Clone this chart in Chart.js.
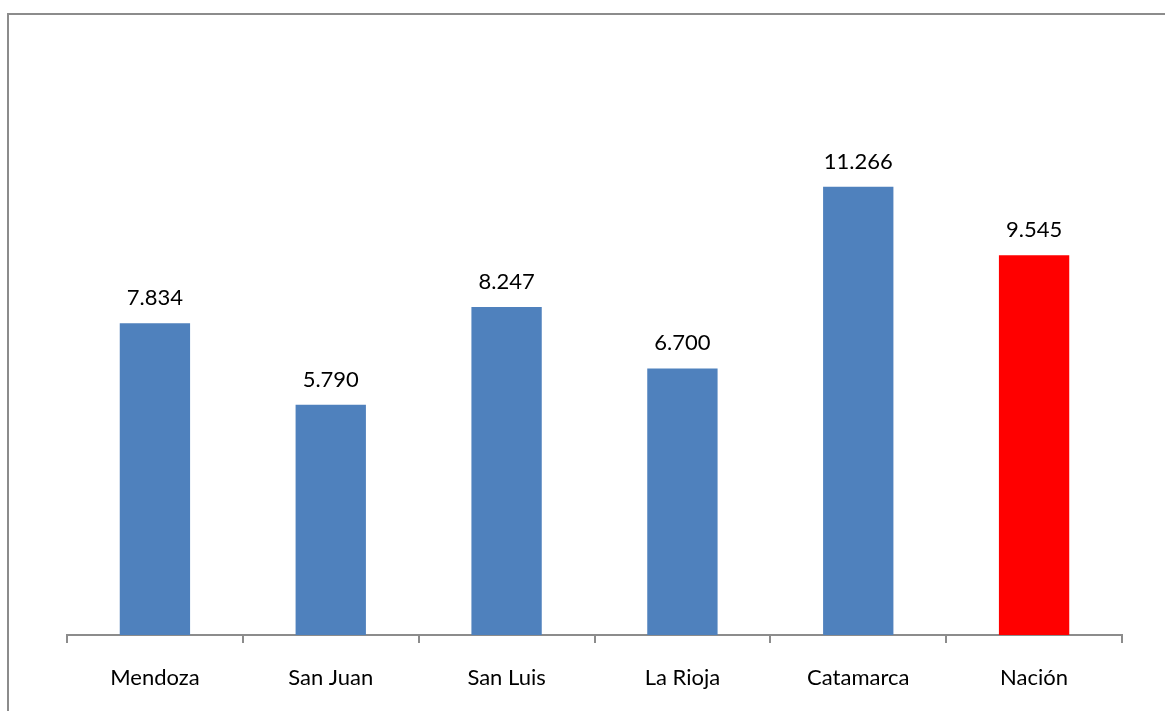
<!DOCTYPE html>
<html>
<head>
<meta charset="utf-8">
<script src="https://cdn.jsdelivr.net/npm/chart.js@4"></script>
<style>
  html, body { margin: 0; padding: 0; background: #fff; }
  #wrap { width: 1165px; height: 711px; position: relative; }
</style>
</head>
<body>
<div id="wrap"><canvas id="chart"></canvas></div>
<script>
// Data
const categories = ['Mendoza', 'San Juan', 'San Luis', 'La Rioja', 'Catamarca', 'Nación'];
const values = [7.834, 5.790, 8.247, 6.700, 11.266, 9.545];
const valueLabels = ['7.834', '5.790', '8.247', '6.700', '11.266', '9.545'];
const barColors = ['#4F81BD', '#4F81BD', '#4F81BD', '#4F81BD', '#4F81BD', '#FF0000'];

const fontFamily = 'Lato, "Open Sans", sans-serif';
const fontSize = 22;

// Frame on the left and top edges
const framePlugin = {
    id: 'frame',
    beforeDraw(chart) {
        const ctx = chart.ctx;
        ctx.save();
        ctx.strokeStyle = '#8c8c8c';
        ctx.lineWidth = 2;
        ctx.beginPath();
        ctx.moveTo(8, 711);
        ctx.lineTo(8, 14);
        ctx.lineTo(1165, 14);
        ctx.stroke();
        ctx.restore();
    }
};

// Value labels above bars
const valueLabelPlugin = {
    id: 'valueLabels',
    afterDatasetsDraw(chart) {
        const ctx = chart.ctx;
        const meta = chart.getDatasetMeta(0);
        ctx.save();
        ctx.font = fontSize + 'px ' + fontFamily;
        ctx.fillStyle = '#000';
        ctx.textAlign = 'center';
        ctx.textBaseline = 'alphabetic';
        meta.data.forEach((bar, i) => {
            ctx.fillText(valueLabels[i], bar.x, bar.y - 18);
        });
        ctx.restore();
    }
};

new Chart(document.getElementById('chart'), {
    type: 'bar',
    data: {
        labels: categories,
        datasets: [{
            data: values,
            backgroundColor: barColors,
            barPercentage: 0.4,
            categoryPercentage: 1.0,
        }],
    },
    options: {
        responsive: true,
        maintainAspectRatio: false,
        animation: false,
        layout: {
            padding: { left: 67, right: 43, top: 78, bottom: 0 },
        },
        plugins: {
            legend: { display: false },
            tooltip: { enabled: false },
        },
        scales: {
            x: {
                offset: true,
                grid: {
                    offset: true,
                    drawOnChartArea: false,
                    drawTicks: true,
                    tickLength: 8,
                    color: '#8c8c8c',
                    lineWidth: 2,
                },
                border: { color: '#8c8c8c', width: 2 },
                ticks: {
                    color: '#000',
                    font: { family: fontFamily, size: fontSize },
                    padding: 22,
                    maxRotation: 0,
                },
                afterFit(scale) {
                    scale.height = 76;
                },
            },
            y: {
                display: false,
                min: 0,
                max: 14,
            },
        },
    },
    plugins: [framePlugin, valueLabelPlugin],
});
</script>
</body>
</html>
